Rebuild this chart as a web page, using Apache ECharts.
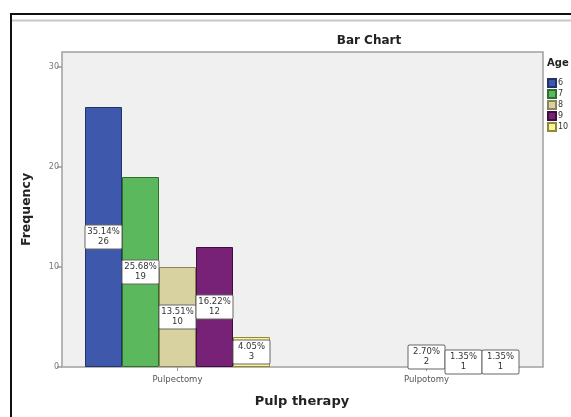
<!DOCTYPE html>
<html>
<head>
<meta charset="utf-8">
<script src="https://cdn.jsdelivr.net/npm/echarts@6/dist/echarts.min.js"></script>
<style>html,body{margin:0;padding:0;background:#fff}#c{width:571px;height:417px}</style>
</head>
<body>
<div id="c"></div>
<script>
var categories = ['Pulpectomy', 'Pulpotomy'];
var ages = ['6', '7', '8', '9', '10'];
var age6 = [26, null];
var age7 = [19, null];
var age8 = [10, 2];
var age9 = [12, 1];
var age10 = [3, 1];
var yTicks = [0, 10, 20, 30];
var colors = ['#3e58ac', '#5cb85c', '#d8d2a0', '#772277', '#f8f59a'];
var borders = ['#22336a', '#2f6e2f', '#8a8458', '#3e0f3e', '#8f8a3a'];

var seriesData = [age6, age7, age8, age9, age10];
var total = 0;
seriesData.forEach(function (s) { s.forEach(function (v) { if (v != null) total += v; }); });

var chart = echarts.init(document.getElementById('c'));
var F = 'DejaVu Sans';
var option = {
  animation: false,
  textStyle: { fontFamily: F },
  title: {
    text: 'Bar Chart', left: 364, top: 30, textAlign: 'center',
    textStyle: { fontFamily: F, fontSize: 12, fontWeight: 'bold', color: '#222' }
  },
  graphic: [
    { type: 'rect', z: -10, shape: { x: 11, y: 14, width: 620, height: 460 }, style: { fill: '#fff', stroke: '#111', lineWidth: 2 } },
    { type: 'line', z: -9, shape: { x1: 12, y1: 20.5, x2: 571, y2: 20.5 }, style: { stroke: '#c8c8c8', lineWidth: 2 } },
    { type: 'rect', z: -8, shape: { x: 62, y: 52, width: 481, height: 315 }, style: { fill: '#f0f0f0', stroke: '#a0a0a0', lineWidth: 1.5 } },
    { type: 'text', z: 10, left: 547, top: 58, style: { text: 'Age', fontFamily: F, fontSize: 10, fontWeight: 'bold', fill: '#222' } }
  ],
  legend: {
    orient: 'vertical', left: 542, top: 73, itemWidth: 8, itemHeight: 8, itemGap: 1,
    icon: 'rect', data: ages,
    textStyle: { fontFamily: F, fontSize: 8, lineHeight: 9, color: '#333', padding: [0, 0, 0, -3] }
  },
  grid: { left: 53, right: 20, top: 52, bottom: 50, containLabel: false },
  xAxis: {
    type: 'category', data: categories,
    name: 'Pulp therapy', nameLocation: 'middle', nameGap: 28,
    nameTextStyle: { fontFamily: F, fontSize: 13, fontWeight: 'bold', color: '#222' },
    axisLine: { show: false },
    axisTick: { show: true, alignWithLabel: true, length: 4, lineStyle: { color: '#999' } },
    axisLabel: { fontFamily: F, fontSize: 8.5, color: '#555', margin: 8 }
  },
  yAxis: {
    type: 'value', min: 0, max: 31.5, interval: 10, offset: -9,
    name: 'Frequency', nameLocation: 'middle', nameGap: 29,
    nameTextStyle: { fontFamily: F, fontSize: 12.5, fontWeight: 'bold', color: '#222' },
    axisLine: { show: false },
    splitLine: { show: false },
    axisTick: { show: true, length: 5, customValues: yTicks, lineStyle: { color: '#999', width: 1.5 } },
    axisLabel: { fontFamily: F, fontSize: 8, color: '#777', margin: 3, customValues: yTicks }
  },
  series: seriesData.map(function (d, i) {
    return {
      name: ages[i], type: 'bar', data: d, barWidth: 37, barGap: '0%',
      itemStyle: { color: colors[i], borderColor: borders[i], borderWidth: 1 },
      label: {
        show: true, position: 'inside',
        formatter: function (p) { return (p.value / total * 100).toFixed(2) + '%\n' + p.value; },
        fontFamily: F, fontSize: 8.5, lineHeight: 10, color: '#333',
        backgroundColor: '#fff', borderColor: '#666', borderWidth: 1, borderRadius: 1,
        padding: [2, 1, 1, 1], width: 34, align: 'center'
      }
    };
  })
};
chart.setOption(option);
</script>
</body>
</html>
